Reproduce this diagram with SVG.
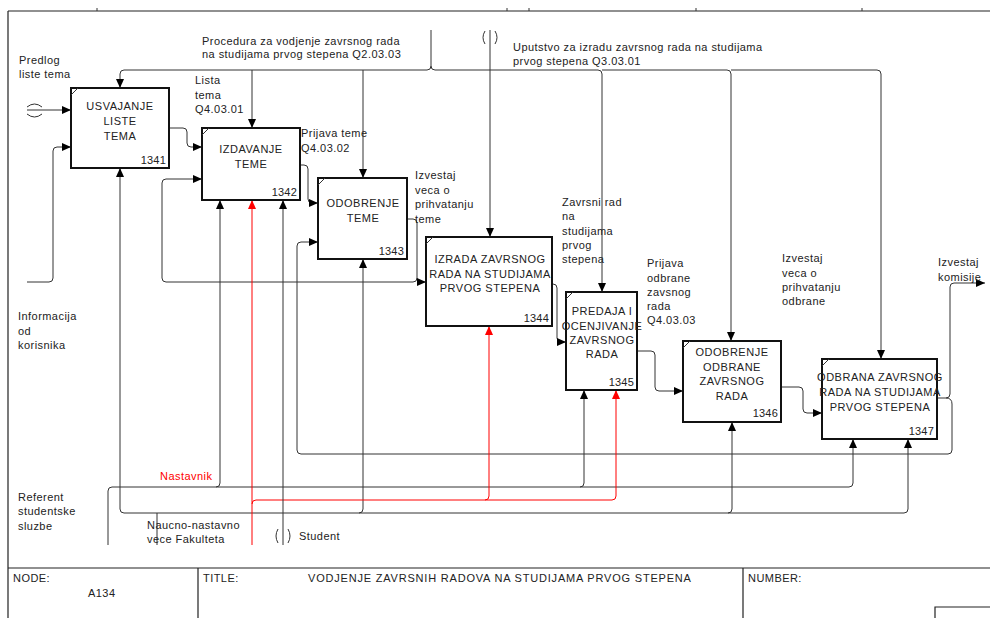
<svg xmlns="http://www.w3.org/2000/svg" width="990" height="618" viewBox="0 0 990 618">
<style>
text{font-family:"Liberation Sans",Arial,sans-serif;font-size:11px;fill:#222;letter-spacing:0.45px}
.bl{letter-spacing:0.5px;text-anchor:middle}
.num{text-anchor:end;letter-spacing:0.2px}
.box{fill:#fff;stroke:#111;stroke-width:2}
.ln{fill:none;stroke:#333;stroke-width:1}
.rd{fill:none;stroke:#f00;stroke-width:1}
.fr{fill:none;stroke:#222;stroke-width:1.2}
.red{fill:#f00}
</style>
<defs>
<marker id="a" markerUnits="userSpaceOnUse" markerWidth="10" markerHeight="8" refX="9" refY="4" orient="auto"><path d="M0,0 L9,4 L0,8 z" fill="#000"/></marker>
<marker id="ar" markerUnits="userSpaceOnUse" markerWidth="10" markerHeight="8" refX="9" refY="4" orient="auto"><path d="M0,0 L9,4 L0,8 z" fill="#f00"/></marker>
</defs>
<rect width="990" height="618" fill="#fff"/>
<g id="frame">
<path class="fr" d="M8,11 H990 M8,11 V618 M8,568 H990 M198,568 V618 M743,568 V618 M935,618 V607 H990"/>
<path class="ln" d="M97,8 V11 M507,8 V11 M529,8 V11 M696,8 V11 M862,8 V11"/>
<text x="13" y="582">NODE:</text>
<text x="88" y="597">A134</text>
<text x="203" y="582">TITLE:</text>
<text x="308" y="582" style="letter-spacing:0.8px">VODJENJE ZAVRSNIH RADOVA NA STUDIJAMA PRVOG STEPENA</text>
<text x="748" y="582">NUMBER:</text>
</g>
<g id="connectors">
<path class="ln" d="M431,30 V66"/>
<path class="ln" d="M431,66 Q431,70 427,70 H124 Q120,70 120,74 V88" marker-end="url(#a)"/>
<path class="ln" d="M431,66 Q431,70 435,70 H598 Q602,70 602,74 V292" marker-end="url(#a)"/>
<path class="ln" d="M602,70 H727 Q731,70 731,74 V341" marker-end="url(#a)"/>
<path class="ln" d="M731,70 H877 Q881,70 881,74 V359" marker-end="url(#a)"/>
<path class="ln" d="M252,70 V128" marker-end="url(#a)"/>
<path class="ln" d="M363,70 V178" marker-end="url(#a)"/>
<path class="ln" d="M490,30 V237" marker-end="url(#a)"/>
<path class="ln" d="M485,31 Q481,37.5 485,44 M495,31 Q499,37.5 495,44"/>
<path class="ln" d="M27,110 H71" marker-end="url(#a)"/>
<path class="ln" d="M27,107 Q34.5,101 42,107 M27,114 Q34.5,120 42,114"/>
<path class="ln" d="M27,282 H49 Q53,282 53,278 V151 Q53,147 57,147 H71" marker-end="url(#a)"/>
<path class="ln" d="M169,128 H183 Q187,128 187,132 V143 Q187,147 191,147 H202" marker-end="url(#a)"/>
<path class="ln" d="M300,165 H304 Q308,165 308,169 V199 Q308,203 312,203 H318" marker-end="url(#a)"/>
<path class="ln" d="M407,219 H413 Q417,219 417,223 V278 Q417,282 421,282 H426" marker-end="url(#a)"/>
<path class="ln" d="M417,278 Q417,282 413,282 H166 Q162,282 162,278 V183 Q162,179 166,179 H202" marker-end="url(#a)"/>
<path class="ln" d="M552,284 H553 Q557,284 557,288 V338 Q557,342 561,342 H566" marker-end="url(#a)"/>
<path class="ln" d="M637,351 H651 Q655,351 655,355 V387 Q655,391 659,391 H683" marker-end="url(#a)"/>
<path class="ln" d="M781,387 H799 Q803,387 803,391 V409 Q803,413 807,413 H822" marker-end="url(#a)"/>
<path class="ln" d="M937,398 H946 Q950,398 950,394 V287 Q950,283 954,283 H985" marker-end="url(#a)"/>
<path class="ln" d="M946,398 Q952,398 952,404 V450 Q952,454 948,454 H301 Q297,454 297,450 V246 Q297,242 301,242 H318" marker-end="url(#a)"/>
<path class="ln" d="M108,545 V491 Q108,487 112,487 H849 Q853,487 853,483 V439" marker-end="url(#a)"/>
<path class="ln" d="M216,487 Q220,487 220,483 V200" marker-end="url(#a)"/>
<path class="ln" d="M580,487 Q584,487 584,483 V390" marker-end="url(#a)"/>
<path class="ln" d="M157,545 V513"/>
<path class="ln" d="M124,513 H904 Q908,513 908,509 V439" marker-end="url(#a)"/>
<path class="ln" d="M124,513 Q120,513 120,509 V168" marker-end="url(#a)"/>
<path class="ln" d="M359,513 Q363,513 363,509 V259" marker-end="url(#a)"/>
<path class="ln" d="M728,513 Q732,513 732,509 V422" marker-end="url(#a)"/>
<path class="rd" d="M252,545 V200" marker-end="url(#ar)"/>
<path class="rd" d="M252,504 Q252,500 256,500 H612 Q616,500 616,496 V390" marker-end="url(#ar)"/>
<path class="rd" d="M485,500 Q489,500 489,496 V326" marker-end="url(#ar)"/>
<path class="ln" d="M283,545 V200" marker-end="url(#a)"/>
<path class="ln" d="M278,529 Q274,536 278,543 M288,529 Q292,536 288,543"/>
</g>
<g id="labels">
<text x="19" y="64">Predlog</text>
<text x="19" y="78">liste tema</text>
<text x="202" y="45">Procedura za vodjenje zavrsnog rada</text>
<text x="202" y="58">na studijama prvog stepena Q2.03.03</text>
<text x="513" y="51">Uputstvo za izradu zavrsnog rada na studijama</text>
<text x="513" y="65">prvog stepena Q3.03.01</text>
<text x="195" y="84">Lista</text>
<text x="195" y="99">tema</text>
<text x="195" y="113">Q4.03.01</text>
<text x="301" y="137">Prijava teme</text>
<text x="301" y="152">Q4.03.02</text>
<text x="415" y="179">Izvestaj</text>
<text x="415" y="194">veca o</text>
<text x="415" y="208">prihvatanju</text>
<text x="415" y="223">teme</text>
<text x="562" y="206">Zavrsni rad</text>
<text x="562" y="220">na</text>
<text x="562" y="235">studijama</text>
<text x="562" y="249">prvog</text>
<text x="562" y="263">stepena</text>
<text x="647" y="267">Prijava</text>
<text x="647" y="282">odbrane</text>
<text x="647" y="296">zavsnog</text>
<text x="647" y="310">rada</text>
<text x="647" y="324">Q4.03.03</text>
<text x="782" y="262">Izvestaj</text>
<text x="782" y="277">veca o</text>
<text x="782" y="291">prihvatanju</text>
<text x="782" y="305">odbrane</text>
<text x="938" y="266">Izvestaj</text>
<text x="938" y="281">komisije</text>
<text x="18" y="320">Informacija</text>
<text x="18" y="335">od</text>
<text x="18" y="349">korisnika</text>
<text x="18" y="501">Referent</text>
<text x="18" y="515">studentske</text>
<text x="18" y="530">sluzbe</text>
<text x="160" y="480" class="red">Nastavnik</text>
<text x="147" y="529">Naucno-nastavno</text>
<text x="147" y="543">vece Fakulteta</text>
<text x="299" y="540">Student</text>
</g>
<g id="n1341">
<rect class="box" x="71" y="88" width="98" height="80"/>
<path class="ln" d="M71,95 L78,88" stroke="#111"/>
<text class="bl" x="120" y="110">USVAJANJE</text>
<text class="bl" x="120" y="125">LISTE</text>
<text class="bl" x="120" y="140">TEMA</text>
<text class="num" x="166" y="164">1341</text>
</g>
<g id="n1342">
<rect class="box" x="202" y="128" width="98" height="72"/>
<path class="ln" d="M202,135 L209,128" stroke="#111"/>
<text class="bl" x="251" y="153">IZDAVANJE</text>
<text class="bl" x="251" y="168">TEME</text>
<text class="num" x="297" y="196">1342</text>
</g>
<g id="n1343">
<rect class="box" x="318" y="178" width="89" height="81"/>
<path class="ln" d="M318,185 L325,178" stroke="#111"/>
<text class="bl" x="363" y="207">ODOBRENJE</text>
<text class="bl" x="363" y="222">TEME</text>
<text class="num" x="404" y="255">1343</text>
</g>
<g id="n1344">
<rect class="box" x="426" y="237" width="126" height="89"/>
<path class="ln" d="M426,244 L433,237" stroke="#111"/>
<text class="bl" x="490" y="263">IZRADA ZAVRSNOG</text>
<text class="bl" x="490" y="278">RADA NA STUDIJAMA</text>
<text class="bl" x="490" y="292">PRVOG STEPENA</text>
<text class="num" x="549" y="322">1344</text>
</g>
<g id="n1345">
<rect class="box" x="566" y="292" width="71" height="98"/>
<path class="ln" d="M566,299 L573,292" stroke="#111"/>
<text class="bl" x="602" y="315">PREDAJA I</text>
<text class="bl" x="602" y="330">OCENJIVANJE</text>
<text class="bl" x="602" y="344">ZAVRSNOG</text>
<text class="bl" x="602" y="358">RADA</text>
<text class="num" x="634" y="386">1345</text>
</g>
<g id="n1346">
<rect class="box" x="683" y="341" width="98" height="81"/>
<path class="ln" d="M683,348 L690,341" stroke="#111"/>
<text class="bl" x="732" y="356">ODOBRENJE</text>
<text class="bl" x="732" y="371">ODBRANE</text>
<text class="bl" x="732" y="385">ZAVRSNOG</text>
<text class="bl" x="732" y="400">RADA</text>
<text class="num" x="778" y="417">1346</text>
</g>
<g id="n1347">
<rect class="box" x="822" y="359" width="115" height="80"/>
<path class="ln" d="M822,366 L829,359" stroke="#111"/>
<text class="bl" x="880" y="381">ODBRANA ZAVRSNOG</text>
<text class="bl" x="880" y="396">RADA NA STUDIJAMA</text>
<text class="bl" x="880" y="411">PRVOG STEPENA</text>
<text class="num" x="934" y="435">1347</text>
</g>
</svg>
